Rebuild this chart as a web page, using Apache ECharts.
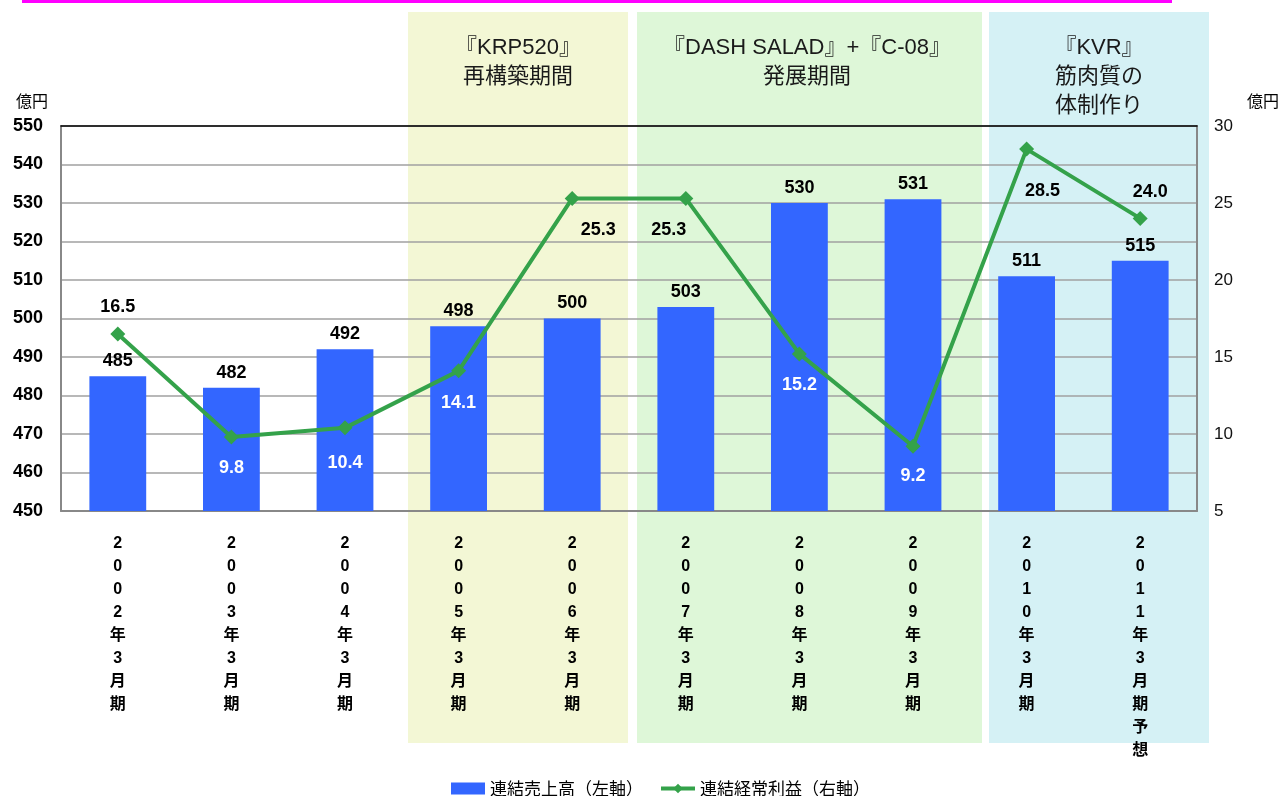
<!DOCTYPE html>
<html>
<head>
<meta charset="utf-8">
<script src="https://cdn.jsdelivr.net/npm/echarts@6/dist/echarts.min.js"></script>
<style>
html,body{margin:0;padding:0;background:#fff;}
#c{width:1282px;height:796px;}
</style>
</head>
<body>
<div id="c"></div>
<script>
// ---- data ----
const categories = ['2002年3月期','2003年3月期','2004年3月期','2005年3月期','2006年3月期','2007年3月期','2008年3月期','2009年3月期','2010年3月期','2011年3月期予想'];
const salesValues = [485, 482, 492, 498, 500, 503, 530, 531, 511, 515];
const profitValues = [16.5, 9.8, 10.4, 14.1, 25.3, 25.3, 15.2, 9.2, 28.5, 24.0];
const leftTicks = [450, 460, 470, 480, 490, 500, 510, 520, 530, 540, 550];
const rightTicks = [5, 10, 15, 20, 25, 30];
const seriesNames = ['連結売上高（左軸）', '連結経常利益（右軸）'];
const bandTitles = ['『KRP520』\n再構築期間', '『DASH SALAD』+『C-08』\n発展期間', '『KVR』\n筋肉質の\n体制作り'];

// ---- label placement (styling only) ----
const profitLabelOffsets = [[0,-27],[0,31],[0,35],[0,32],[26,32],[-17,32],[0,31],[0,30],[16,42],[10,-26]];
const profitLabelWhite = [false,true,true,true,false,false,true,true,false,false];

const FONT = '"Liberation Sans","Noto Sans CJK JP",Arial,sans-serif';
const CJK = '"Liberation Sans","Noto Sans CJK JP",sans-serif';

const chart = echarts.init(document.getElementById('c'), null, {renderer:'canvas'});

const profitData = profitValues.map((v, i) => ({
  value: v,
  label: {
    show: true,
    position: 'inside',
    offset: profitLabelOffsets[i],
    color: profitLabelWhite[i] ? '#ffffff' : '#000000',
    fontFamily: FONT,
    fontWeight: 'bold',
    fontSize: 18,
    formatter: p => p.value.toFixed(1)
  }
}));

const bands = [
  {x:408, w:220, color:'#F3F7D5', tx:518},
  {x:637, w:345, color:'#DEF7D8', tx:807},
  {x:989, w:220, color:'#D5F1F5', tx:1099}
];

const graphics = [
  {type:'rect', shape:{x:22, y:0, width:1150, height:3}, style:{fill:'#FF00FF'}, z:-5}
];
bands.forEach((b, i) => {
  graphics.push({type:'rect', z:-10, shape:{x:b.x, y:12, width:b.w, height:731}, style:{fill:b.color}});
  graphics.push({type:'text', z:5, x:b.tx, y:33, style:{text:bandTitles[i], fill:'#1a1a1a', font:'22px ' + CJK, textAlign:'center', textVerticalAlign:'top', lineHeight:29}});
});

chart.setOption({
  backgroundColor: '#ffffff',
  animation: false,
  graphic: graphics,
  grid: {left: 61, right: 85, top: 126, bottom: 285, containLabel: false},
  legend: {
    bottom: -6,
    left: 446,
    itemWidth: 34,
    itemHeight: 12,
    itemGap: 16,
    textStyle: {fontFamily: '"Noto Sans CJK JP",sans-serif', fontSize: 17, color: '#000'},
    data: [
      {name: seriesNames[0], icon: 'rect'},
      {name: seriesNames[1], lineStyle: {width: 4}}
    ]
  },
  xAxis: [{
    type: 'category',
    data: categories,
    axisLine: {show: true, lineStyle: {color: '#888888', width: 2}},
    axisTick: {show: false},
    axisLabel: {
      interval: 0,
      margin: 21,
      fontFamily: FONT,
      fontWeight: 'bold',
      fontSize: 16,
      lineHeight: 23,
      color: '#000',
      formatter: v => v.split('').join('\n')
    }
  }, {
    type: 'category',
    data: categories,
    position: 'top',
    axisLine: {show: true, lineStyle: {color: '#000000', width: 1.5}},
    axisTick: {show: false},
    axisLabel: {show: false}
  }],
  yAxis: [{
    type: 'value',
    min: leftTicks[0],
    max: leftTicks[leftTicks.length - 1],
    interval: leftTicks[1] - leftTicks[0],
    name: '億円',
    nameLocation: 'end',
    nameGap: 17,
    nameTextStyle: {fontFamily: '"Noto Sans CJK JP",sans-serif', fontSize: 16, color: '#000', align: 'right', padding: [0, 13, 0, 0]},
    axisLine: {show: true, lineStyle: {color: '#888888', width: 2}},
    axisTick: {show: false},
    axisLabel: {margin: 18, fontFamily: FONT, fontWeight: 'bold', fontSize: 18, color: '#000'},
    splitLine: {show: true, lineStyle: {color: '#A0A0A0', width: 1.5}}
  }, {
    type: 'value',
    min: rightTicks[0],
    max: rightTicks[rightTicks.length - 1],
    interval: rightTicks[1] - rightTicks[0],
    name: '億円',
    nameLocation: 'end',
    nameGap: 17,
    nameTextStyle: {fontFamily: '"Noto Sans CJK JP",sans-serif', fontSize: 16, color: '#000', align: 'left', padding: [0, 0, 0, 50]},
    axisLine: {show: true, lineStyle: {color: '#888888', width: 2}},
    axisTick: {show: false},
    axisLabel: {margin: 17, fontFamily: FONT, fontSize: 17, color: '#111'},
    splitLine: {show: false}
  }],
  series: [{
    name: seriesNames[0],
    type: 'bar',
    data: salesValues,
    barWidth: '50%',
    itemStyle: {color: '#3366FF'},
    label: {show: true, position: 'top', distance: 6, fontFamily: FONT, fontWeight: 'bold', fontSize: 18, color: '#000'},
    z: 2
  }, {
    name: seriesNames[1],
    type: 'line',
    yAxisIndex: 1,
    data: profitData,
    symbol: 'diamond',
    symbolSize: 15,
    itemStyle: {color: '#34A24A'},
    lineStyle: {color: '#34A24A', width: 4},
    z: 3
  }]
});
</script>
</body>
</html>
